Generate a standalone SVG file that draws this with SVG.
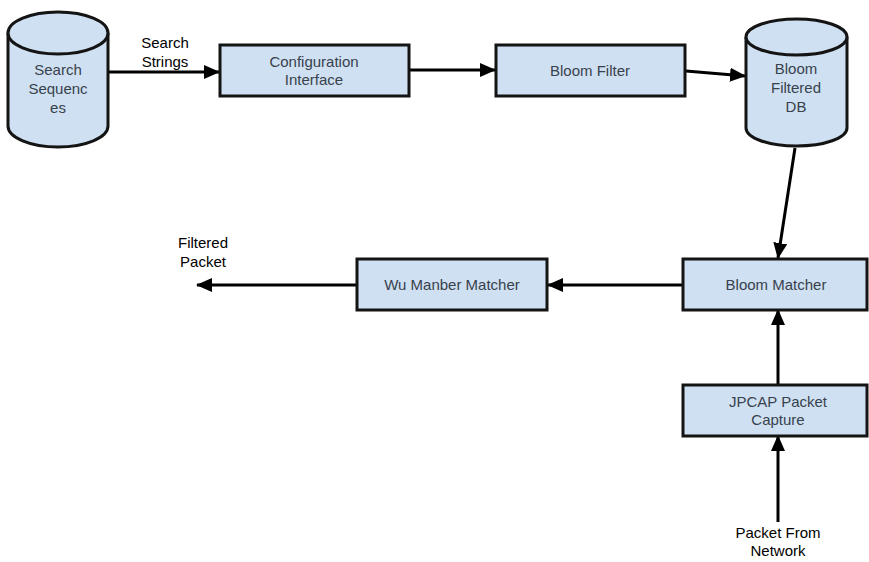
<svg xmlns="http://www.w3.org/2000/svg" width="869" height="562" viewBox="0 0 869 562">
<style>
.box{fill:#cfe0f2;stroke:#141414;stroke-width:3}
.cyl{fill:#cfe0f2;stroke:#141414;stroke-width:3}
.t{font-family:"Liberation Sans",Arial,sans-serif;font-size:15px;fill:#38424d;text-anchor:middle}
.l{font-family:"Liberation Sans",Arial,sans-serif;font-size:15px;fill:#000;text-anchor:middle}
.c{stroke:#000;stroke-width:3;fill:none;marker-end:url(#ah)}
</style>
<defs>
<marker id="ah" viewBox="0 0 16 14" refX="15" refY="7" markerWidth="16" markerHeight="14" markerUnits="userSpaceOnUse" orient="auto">
<path d="M0,0 L16,7 L0,14 z" fill="#000"/>
</marker>
</defs>
<rect width="869" height="562" fill="#fff"/>
<g id="connectors">
<line class="c" x1="108" y1="72" x2="219" y2="72"/>
<line class="c" x1="409" y1="70" x2="495" y2="70"/>
<line class="c" x1="686" y1="71" x2="745" y2="76"/>
<line class="c" x1="795" y1="148" x2="778" y2="258"/>
<line class="c" x1="683" y1="285" x2="548" y2="285"/>
<line class="c" x1="357" y1="285" x2="197" y2="285"/>
<line class="c" x1="778" y1="385" x2="778" y2="310"/>
<line class="c" x1="778" y1="522" x2="778" y2="436"/>
</g>
<g id="search-sequences">
<path class="cyl" d="M8,33 L8,126 A50,21 0 0 0 108,126 L108,33 A50,21 0 0 0 8,33 Z"/>
<path class="cyl" d="M8,33 A50,21 0 0 0 108,33" fill="none"/>
<text class="t" x="58" y="75">Search</text>
<text class="t" x="58" y="94">Sequenc</text>
<text class="t" x="58" y="113">es</text>
</g>
<g id="label-search-strings">
<text class="l" x="165" y="48">Search</text>
<text class="l" x="165" y="67">Strings</text>
</g>
<g id="configuration-interface">
<rect class="box" x="220" y="45" width="189" height="51"/>
<text class="t" x="314" y="67">Configuration</text>
<text class="t" x="314" y="85">Interface</text>
</g>
<g id="bloom-filter">
<rect class="box" x="496" y="45" width="189" height="51"/>
<text class="t" x="590" y="76">Bloom Filter</text>
</g>
<g id="bloom-filtered-db">
<path class="cyl" d="M746,37 L746,128 A50.5,18 0 0 0 847,128 L847,37 A50.5,18 0 0 0 746,37 Z"/>
<path class="cyl" d="M746,37 A50.5,18 0 0 0 847,37" fill="none"/>
<text class="t" x="796" y="74">Bloom</text>
<text class="t" x="796" y="93">Filtered</text>
<text class="t" x="796" y="112">DB</text>
</g>
<g id="bloom-matcher">
<rect class="box" x="683" y="259" width="184" height="51"/>
<text class="t" x="776" y="290">Bloom Matcher</text>
</g>
<g id="wu-manber-matcher">
<rect class="box" x="357" y="259" width="190" height="51"/>
<text class="t" x="452" y="290">Wu Manber Matcher</text>
</g>
<g id="label-filtered-packet">
<text class="l" x="203" y="248">Filtered</text>
<text class="l" x="203" y="267">Packet</text>
</g>
<g id="jpcap-packet-capture">
<rect class="box" x="683" y="385" width="184" height="51"/>
<text class="t" x="778" y="407">JPCAP Packet</text>
<text class="t" x="778" y="425">Capture</text>
</g>
<g id="label-packet-from-network">
<text class="l" x="778" y="538">Packet From</text>
<text class="l" x="778" y="556">Network</text>
</g>
</svg>
